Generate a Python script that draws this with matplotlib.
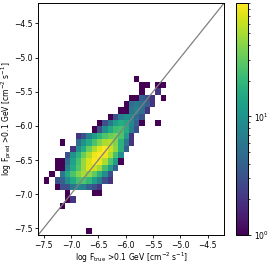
import numpy as np
import matplotlib
matplotlib.use('Agg')
from matplotlib import pyplot as plt
from matplotlib.colors import LogNorm

# 2D histogram counts, top row first (log F_pred high -> low), columns log F_true low -> high
counts = [
    [0, 0, 0, 0, 0, 0, 0, 0, 0, 0, 0, 0, 0, 0, 0, 0, 0, 1, 0, 0, 0, 0, 0],
    [0, 0, 0, 0, 0, 0, 0, 0, 0, 0, 0, 0, 0, 0, 0, 0, 0, 0, 1, 1, 0, 1, 1],
    [0, 0, 0, 0, 0, 0, 0, 0, 0, 0, 0, 0, 0, 0, 0, 0, 0, 0, 1, 0, 0, 2, 0],
    [0, 0, 0, 0, 0, 0, 0, 0, 0, 0, 0, 0, 0, 0, 0, 0, 1, 1, 4, 3, 2, 0, 1],
    [0, 0, 0, 0, 0, 0, 0, 0, 0, 0, 0, 0, 0, 0, 0, 1, 5, 6, 5, 4, 2, 0, 0],
    [0, 0, 0, 0, 0, 0, 0, 0, 0, 0, 0, 0, 0, 0, 1, 1, 6, 7, 5, 2, 0, 0, 0],
    [0, 0, 0, 0, 0, 0, 0, 0, 0, 0, 0, 0, 1, 3, 7, 9, 8, 5, 3, 0, 0, 0, 0],
    [0, 0, 0, 0, 0, 0, 0, 0, 0, 0, 1, 3, 6, 12, 16, 14, 8, 4, 1, 0, 0, 1, 0],
    [0, 0, 0, 0, 0, 0, 0, 0, 0, 1, 3, 9, 15, 22, 24, 16, 7, 3, 0, 0, 0, 0, 0],
    [0, 0, 0, 0, 0, 0, 2, 3, 7, 12, 18, 26, 32, 35, 25, 12, 2, 0, 0, 0, 0, 0, 0],
    [0, 0, 0, 1, 0, 0, 5, 10, 16, 25, 38, 52, 55, 38, 18, 6, 2, 0, 0, 0, 0, 0, 0],
    [0, 0, 0, 0, 0, 2, 9, 16, 32, 52, 75, 88, 65, 42, 18, 4, 0, 0, 0, 0, 0, 0, 0],
    [0, 0, 0, 0, 3, 10, 18, 32, 52, 80, 90, 80, 52, 24, 9, 0, 0, 0, 0, 0, 0, 0, 0],
    [0, 0, 1, 1, 5, 13, 24, 45, 70, 90, 80, 52, 26, 12, 1, 0, 0, 0, 0, 0, 0, 0, 0],
    [0, 0, 1, 1, 7, 15, 26, 45, 72, 65, 48, 24, 12, 4, 0, 0, 0, 0, 0, 0, 0, 0, 0],
    [0, 1, 0, 6, 15, 25, 38, 50, 42, 30, 18, 9, 3, 0, 0, 0, 0, 0, 0, 0, 0, 0, 0],
    [1, 0, 3, 4, 9, 15, 24, 26, 20, 12, 7, 3, 2, 0, 0, 0, 0, 0, 0, 0, 0, 0, 0],
    [0, 0, 1, 3, 3, 6, 8, 7, 4, 3, 2, 0, 0, 0, 0, 0, 0, 0, 0, 0, 0, 0, 0],
    [0, 0, 0, 0, 1, 0, 0, 0, 0, 1, 1, 0, 0, 0, 0, 0, 0, 0, 0, 0, 0, 0, 0],
    [0, 0, 0, 0, 1, 2, 0, 0, 0, 0, 0, 0, 0, 0, 0, 0, 0, 0, 0, 0, 0, 0, 0],
    [0, 0, 0, 1, 0, 0, 0, 0, 0, 0, 0, 0, 0, 0, 0, 0, 0, 0, 0, 0, 0, 0, 0],
    [0, 0, 0, 0, 0, 0, 0, 0, 0, 0, 0, 0, 0, 0, 0, 0, 0, 0, 0, 0, 0, 0, 0],
    [0, 0, 0, 0, 0, 0, 0, 0, 0, 0, 0, 0, 0, 0, 0, 0, 0, 0, 0, 0, 0, 0, 0],
    [0, 0, 0, 0, 0, 0, 0, 0, 0, 0, 0, 0, 0, 0, 0, 0, 0, 0, 0, 0, 0, 0, 0],
    [0, 0, 0, 0, 0, 0, 0, 0, 1, 0, 0, 0, 0, 0, 0, 0, 0, 0, 0, 0, 0, 0, 0],
]

# histogram bin ranges
x_range = (-7.494, -5.263)
y_range = (-7.588, -5.266)
lims = (-7.6, -4.2)
ticks = [-7.5, -7.0, -6.5, -6.0, -5.5, -5.0, -4.5]


def main():
    H = np.array(counts, dtype=float)[::-1]
    ny, nx = H.shape
    x_edges = np.linspace(x_range[0], x_range[1], nx + 1)
    y_edges = np.linspace(y_range[0], y_range[1], ny + 1)
    H = np.ma.masked_where(H <= 0, H)

    fig = plt.figure(figsize=(2.74, 2.74), dpi=100)
    ax = fig.add_axes([0.139, 0.142, 0.679, 0.847])
    cax = fig.add_axes([0.862, 0.142, 0.043, 0.847])

    mesh = ax.pcolormesh(x_edges, y_edges, H, cmap='viridis', norm=LogNorm(vmin=1, vmax=90))
    ax.plot(lims, lims, color='grey', lw=0.9)
    ax.set_xlim(lims)
    ax.set_ylim(lims)
    ax.set_xticks(ticks)
    ax.set_yticks(ticks)
    ax.tick_params(labelsize=5.5, length=2.5, width=0.6, pad=1.5)
    for s in ax.spines.values():
        s.set_linewidth(0.7)
    ax.set_xlabel(r'log F$_{\rm true}$ >0.1 GeV [cm$^{-2}$ s$^{-1}$]', fontsize=5.5)
    ax.set_ylabel(r'log F$_{\rm pred}$ >0.1 GeV [cm$^{-2}$ s$^{-1}$]', fontsize=5.5)
    ax.xaxis.set_label_coords(0.5, -0.068)
    ax.yaxis.set_label_coords(-0.132, 0.5)

    cb = fig.colorbar(mesh, cax=cax)
    cb.ax.tick_params(labelsize=5.5, length=2.5, width=0.6, pad=1.5)
    cb.ax.tick_params(which='minor', length=1.5, width=0.5)
    cb.outline.set_linewidth(0.7)

    fig.savefig('out.png', dpi=100)


if __name__ == '__main__':
    main()
